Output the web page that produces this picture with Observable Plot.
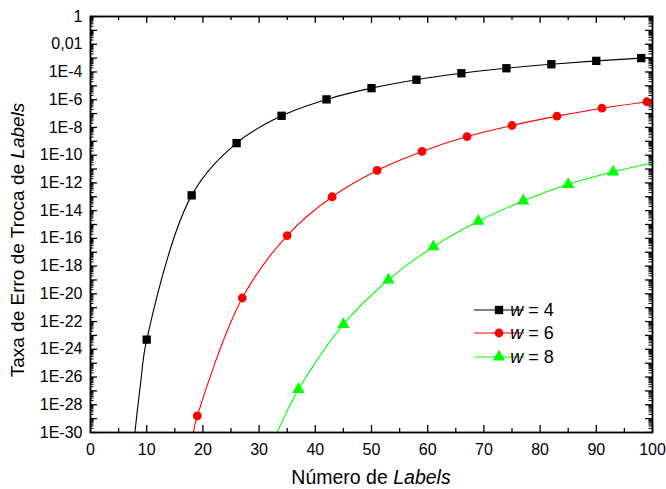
<!DOCTYPE html>
<html><head><meta charset="utf-8">
<script src="https://cdn.jsdelivr.net/npm/d3@7"></script>
<script src="https://cdn.jsdelivr.net/npm/@observablehq/plot@0.6"></script>
<style>
body{margin:0;background:#fff}
#chart{width:666px;height:489px}
</style>
</head><body><div id="chart"></div>
<script>
// ---- data ----
const seriesNames = ["w = 4", "w = 6", "w = 8"];
const seriesColors = ["#000000", "#ff0000", "#00ff00"];

// w = 4 (squares)
const markX4 = [10, 18, 26, 34, 42, 50, 58, 66, 74, 82, 90, 98];
const markY4 = [5.0e-24, 1.26e-13, 7.4e-10, 6.9e-8, 1.05e-6, 6.8e-6, 2.75e-5, 8.1e-5, 1.86e-4, 3.6e-4, 6.3e-4, 1.0e-3];
const lineX4 = [7.9, 8.9, 10, 18, 26, 34, 42, 50, 58, 66, 74, 82, 90, 98, 100];
const lineY4 = [1e-30, 3.2e-27, 5.0e-24, 1.26e-13, 7.4e-10, 6.9e-8, 1.05e-6, 6.8e-6, 2.75e-5, 8.1e-5, 1.86e-4, 3.6e-4, 6.3e-4, 1.0e-3, 1.12e-3];

// w = 6 (circles)
const markX6 = [19, 27, 35, 43, 51, 59, 67, 75, 83, 91, 99];
const markY6 = [1.6e-29, 5.0e-21, 1.6e-16, 1.0e-13, 7.9e-12, 1.86e-10, 2.2e-9, 1.38e-8, 6.5e-8, 2.45e-7, 7.1e-7];
const lineX6 = [18.3, 19, 27, 35, 43, 51, 59, 67, 75, 83, 91, 99, 100];
const lineY6 = [1e-30, 1.6e-29, 5.0e-21, 1.6e-16, 1.0e-13, 7.9e-12, 1.86e-10, 2.2e-9, 1.38e-8, 6.5e-8, 2.45e-7, 7.1e-7, 8.1e-7];

// w = 8 (triangles)
const markX8 = [37, 45, 53, 61, 69, 77, 85, 93];
const markY8 = [1.26e-27, 6.3e-23, 1.0e-19, 2.5e-17, 1.74e-15, 5.0e-14, 7.9e-13, 6.3e-12];
const lineX8 = [33.2, 37, 45, 53, 61, 69, 77, 85, 93, 100];
const lineY8 = [1e-30, 1.26e-27, 6.3e-23, 1.0e-19, 2.5e-17, 1.74e-15, 5.0e-14, 7.9e-13, 6.3e-12, 2.8e-11];

// axes
const xTickValues = [0, 10, 20, 30, 40, 50, 60, 70, 80, 90, 100];
const xMinorValues = [5, 15, 25, 35, 45, 55, 65, 75, 85, 95];
const yTickValues = [1, 1e-2, 1e-4, 1e-6, 1e-8, 1e-10, 1e-12, 1e-14, 1e-16, 1e-18, 1e-20, 1e-22, 1e-24, 1e-26, 1e-28, 1e-30];
const yTickLabels = ["1", "0,01", "1E-4", "1E-6", "1E-8", "1E-10", "1E-12", "1E-14", "1E-16", "1E-18", "1E-20", "1E-22", "1E-24", "1E-26", "1E-28", "1E-30"];
const xTitle = ["Número de ", "Labels"];
const yTitle = ["Taxa de Erro de Troca de ", "Labels"];

// ---- build ----
const W = 666, H = 489, mL = 90, mR = 14, mT = 16, mB = 57;
const innerW = W - mL - mR, innerH = H - mT - mB;
const zip = (xs, ys) => xs.map((x, i) => ({x, y: ys[i]}));
const lines = [zip(lineX4, lineY4), zip(lineX6, lineY6), zip(lineX8, lineY8)];
const marks = [zip(markX4, markY4), zip(markX6, markY6), zip(markX8, markY8)];
const symbols = ["square", "circle", "triangle"];
const radii = [4.7, 4.4, 4.6];

const yDecades = [], yMinor = [];
for (let e = 0; e >= -30; e--) {
  yDecades.push(Math.pow(10, e));
  if (e > -30) for (let k = 2; k <= 9; k++) yMinor.push(k * Math.pow(10, e - 1));
}

const font = "'Liberation Sans', Arial, sans-serif";
const plot = Plot.plot({
  width: W, height: H,
  marginLeft: mL, marginRight: mR, marginTop: mT, marginBottom: mB,
  style: {fontFamily: font, fontSize: "16px", background: "#fff", color: "#000", overflow: "visible"},
  x: {domain: [0, 100], axis: null},
  y: {type: "log", domain: [1e-30, 1], axis: null},
  marks: [
    // x ticks bottom & top
    Plot.tickX(xTickValues, {x: d => d, insetTop: innerH - 7, stroke: "#000", strokeWidth: 1.3}),
    Plot.tickX(xMinorValues, {x: d => d, insetTop: innerH - 4, stroke: "#000", strokeWidth: 1.3}),
    Plot.tickX(xTickValues, {x: d => d, insetBottom: innerH - 7, stroke: "#000", strokeWidth: 1.3}),
    Plot.tickX(xMinorValues, {x: d => d, insetBottom: innerH - 4, stroke: "#000", strokeWidth: 1.3}),
    // y ticks left & right
    Plot.tickY(yDecades, {y: d => d, insetRight: innerW - 7, stroke: "#000", strokeWidth: 1.3}),
    Plot.tickY(yMinor, {y: d => d, insetRight: innerW - 3.5, stroke: "#000", strokeWidth: 1}),
    Plot.tickY(yDecades, {y: d => d, insetLeft: innerW - 7, stroke: "#000", strokeWidth: 1.3}),
    Plot.tickY(yMinor, {y: d => d, insetLeft: innerW - 3.5, stroke: "#000", strokeWidth: 1}),
    // tick labels
    Plot.text(xTickValues, {x: d => d, text: d => String(d), frameAnchor: "bottom", lineAnchor: "top", dy: 11, fontSize: 16, fill: "#000"}),
    Plot.text(yTickValues, {y: d => d, text: (d, i) => yTickLabels[i], frameAnchor: "left", textAnchor: "end", dx: -8, fontSize: 16, fill: "#000"}),
    // series
    ...lines.map((l, i) => Plot.line(l, {x: "x", y: "y", stroke: seriesColors[i], strokeWidth: 1.1, curve: "catmull-rom", clip: true})),
    ...marks.map((m, i) => Plot.dot(m, {x: "x", y: "y", symbol: symbols[i], r: radii[i], fill: seriesColors[i], stroke: "none"})),
    Plot.frame({stroke: "#000", strokeWidth: 1.8})
  ]
});

const svg = d3.select(plot);
// axis titles
const xt = svg.append("text").attr("x", mL + innerW / 2).attr("y", 484)
  .attr("text-anchor", "middle").attr("font-family", font).attr("font-size", 19.5).attr("fill", "#000");
xt.append("tspan").text(xTitle[0]);
xt.append("tspan").attr("font-style", "italic").text(xTitle[1]);
const yt = svg.append("text").attr("transform", "translate(24,240) rotate(-90)")
  .attr("text-anchor", "middle").attr("font-family", font).attr("font-size", 19).attr("fill", "#000");
yt.append("tspan").text(yTitle[0]);
yt.append("tspan").attr("font-style", "italic").text(yTitle[1]);

// legend
const legY = [310, 333, 357];
const d3sym = [d3.symbolSquare, d3.symbolCircle, d3.symbolTriangle];
const lg = svg.append("g");
seriesNames.forEach((name, i) => {
  const y = legY[i];
  lg.append("line").attr("x1", 474).attr("x2", 524).attr("y1", y).attr("y2", y)
    .attr("stroke", seriesColors[i]).attr("stroke-width", 1.1);
  lg.append("path").attr("transform", `translate(499,${y})`)
    .attr("d", d3.symbol(d3sym[i], Math.PI * radii[i] * radii[i])())
    .attr("fill", seriesColors[i]);
  const t = lg.append("text").attr("x", 532).attr("y", y).attr("dy", "0.36em")
    .attr("font-family", font).attr("font-size", 18).attr("fill", "#000");
  const parts = name.split(" ");
  t.append("tspan").attr("font-style", "italic").text(parts[0]);
  t.append("tspan").text(" " + parts.slice(1).join(" "));
});

document.getElementById("chart").appendChild(plot);
</script>
</body></html>
